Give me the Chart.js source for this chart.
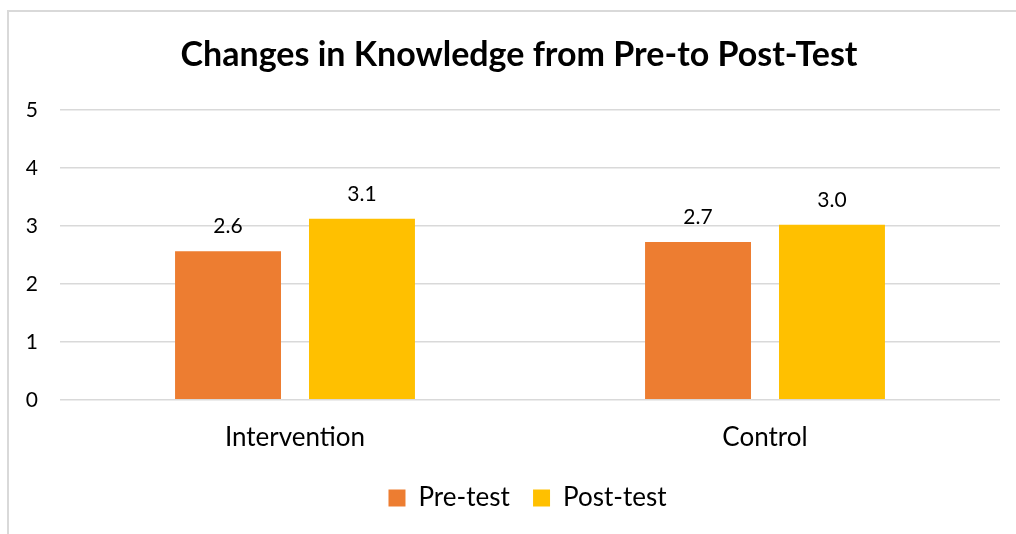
<!DOCTYPE html>
<html>
<head>
<meta charset="utf-8">
<script src="https://cdn.jsdelivr.net/npm/chart.js@4"></script>
<style>
    body { margin: 0; background: #fff; }
    #wrap { position: relative; width: 1016px; height: 534px; overflow: hidden; }
    #frame {
        position: absolute; left: 7px; top: 10px; width: 1016px; height: 534px;
        border-left: 2px solid #d9d9d9; border-top: 2px solid #d9d9d9;
    }
    #chart { position: absolute; left: 0; top: 0; }
</style>
</head>
<body>
<div id="wrap">
    <div id="frame"></div>
    <canvas id="chart" width="1016" height="534"></canvas>
</div>
<script>
const categories = ["Intervention", "Control"];
const preTest = [2.56, 2.72];
const postTest = [3.12, 3.02];
const yTicks = [0, 1, 2, 3, 4, 5];

const FONT = "Lato, 'Open Sans', sans-serif";

// labels above each bar
const barLabels = {
    id: "barLabels",
    afterDatasetsDraw(chart) {
        const ctx = chart.ctx;
        ctx.save();
        ctx.font = "21px " + FONT;
        ctx.fillStyle = "#000";
        ctx.textAlign = "center";
        ctx.textBaseline = "alphabetic";
        chart.data.datasets.forEach((ds, i) => {
            chart.getDatasetMeta(i).data.forEach((bar, j) => {
                ctx.fillText(ds.data[j].toFixed(1), bar.x, bar.y - 18);
            });
        });
        ctx.restore();
    }
};

// title and legend sit a bit right of the canvas centre in the original
const shiftBoxes = {
    id: "shiftBoxes",
    afterLayout(chart) {
        chart.titleBlock.left += 38;
        chart.legend.left += 55;
    }
};

const ctx = document.getElementById("chart").getContext("2d");
const chart = new Chart(ctx, {
    type: "bar",
    data: {
        labels: categories,
        datasets: [{
            label: "Pre-test",
            data: preTest,
            backgroundColor: "#ED7D31",
            categoryPercentage: 0.57,
            barPercentage: 0.791
        }, {
            label: "Post-test",
            data: postTest,
            backgroundColor: "#FFC000",
            categoryPercentage: 0.57,
            barPercentage: 0.791
        }]
    },
    options: {
        responsive: false,
        animation: false,
        layout: { padding: { left: 0, right: 16, top: 0, bottom: 13 } },
        plugins: {
            title: {
                display: true,
                text: "Changes in Knowledge from Pre-to Post-Test",
                color: "#000",
                font: { family: FONT, size: 34, weight: "bold" },
                padding: { top: 35, bottom: 34 }
            },
            legend: {
                position: "bottom",
                labels: {
                    color: "#000",
                    font: { family: FONT, size: 26 },
                    boxWidth: 17,
                    boxHeight: 17,
                    padding: 10,
                    // wider gap between the two items
                    generateLabels: (chart) => {
                        const items = Chart.defaults.plugins.legend.labels.generateLabels(chart);
                        items.forEach((it, i) => {
                            if (i < items.length - 1) it.text += "\u00a0\u00a0";
                        });
                        return items;
                    }
                }
            },
            tooltip: { enabled: false }
        },
        scales: {
            x: {
                grid: { display: false, drawTicks: false },
                border: { display: false },
                ticks: { color: "#000", font: { family: FONT, size: 26 }, padding: 22 }
            },
            y: {
                min: 0,
                max: 5,
                afterBuildTicks: (scale) => { scale.ticks = yTicks.map(v => ({ value: v })); },
                afterFit: (scale) => { scale.width = 60; },
                grid: { color: "#d9d9d9", lineWidth: 1.5, drawTicks: false },
                border: { display: false },
                ticks: { color: "#000", font: { family: FONT, size: 21 }, padding: 22 }
            }
        }
    },
    plugins: [barLabels, shiftBoxes]
});
</script>
</body>
</html>
